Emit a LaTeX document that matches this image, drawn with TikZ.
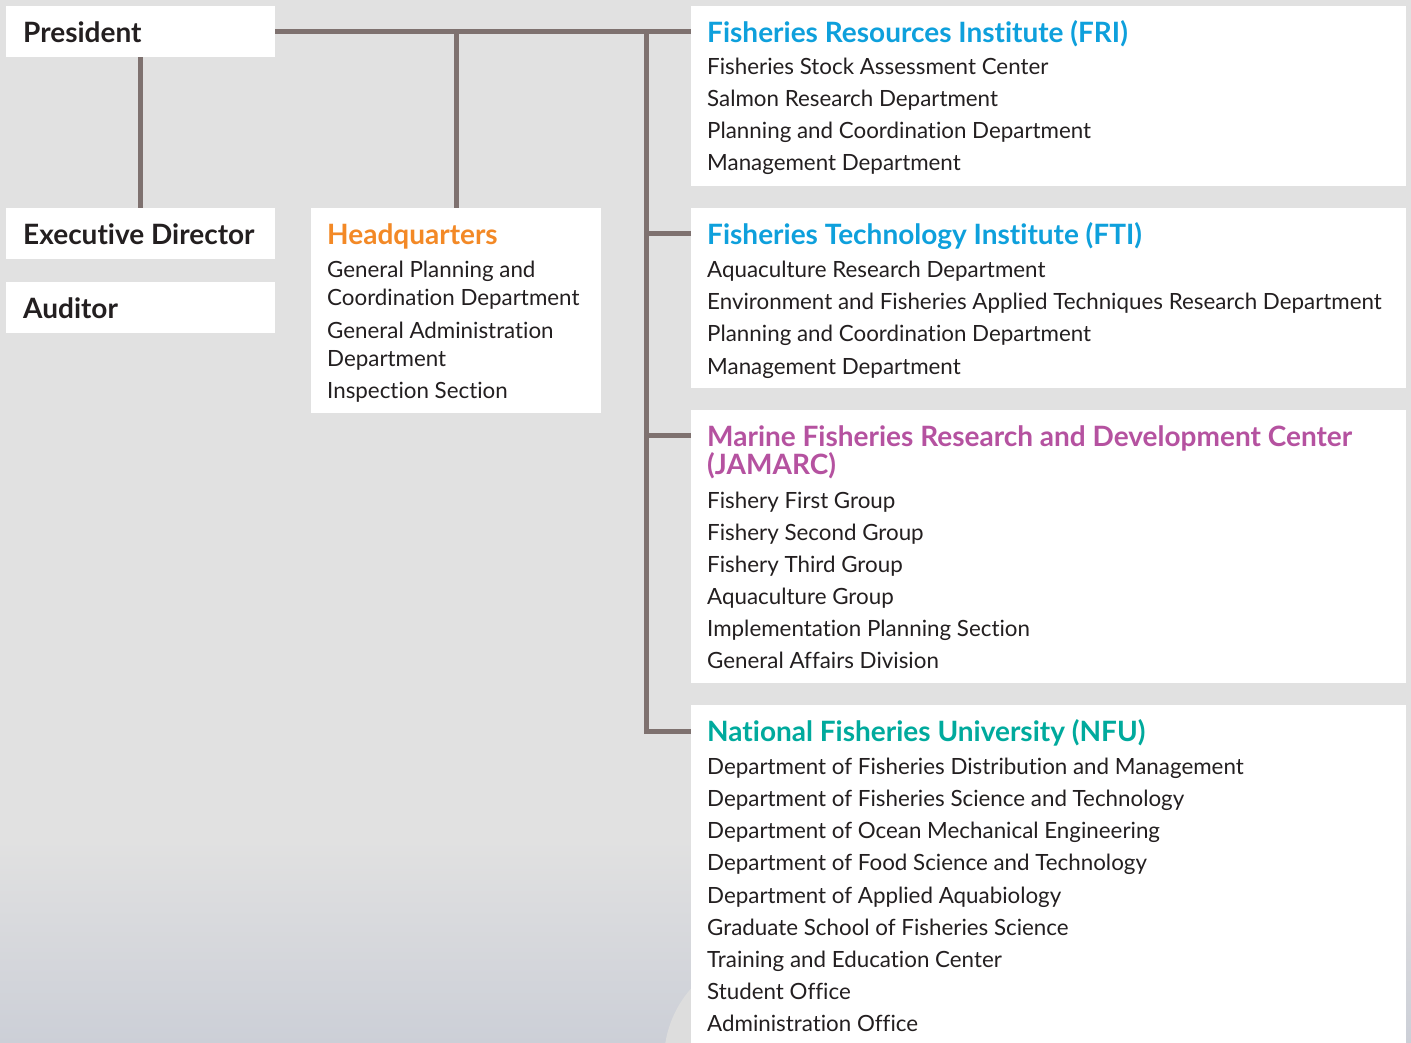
\documentclass[tikz,border=0pt]{standalone}
\usepackage{fontspec}
\setmainfont[Ligatures=NoCommon]{Lato}
\usetikzlibrary{calc}
\definecolor{bg}{RGB}{225,225,225}
\definecolor{bgb}{RGB}{204,207,215}
\definecolor{bump}{RGB}{221,221,221}
\definecolor{ln}{RGB}{126,113,111}
\definecolor{txt}{RGB}{35,31,32}
\definecolor{cblue}{RGB}{14,160,220}
\definecolor{corange}{RGB}{243,137,38}
\definecolor{cmag}{RGB}{181,82,160}
\definecolor{cteal}{RGB}{0,170,157}
\begin{document}
\begin{tikzpicture}[x=1pt,y=-1pt,
  box/.style={fill=white, draw=none, anchor=north west, inner sep=0pt},
  conn/.style={draw=ln, line width=5pt},
  body/.style={anchor=base west, inner sep=0pt, text=txt, font=\fontsize{22.35}{26}\selectfont},
  ttl/.style={anchor=base west, inner sep=0pt, font=\fontsize{28}{30}\selectfont\bfseries},
  lead/.style={ttl, text=txt}]
\useasboundingbox (0,0) rectangle (1411,1043);
\fill[bg] (0,0) rectangle (1411,1043);
\shade[top color=bg, bottom color=bgb] (0,840) rectangle (1411,1043);
\begin{scope}
\clip (0,0) rectangle (1411,1043);
\fill[bump] (772,1060) circle[radius=108];
\end{scope}
% boxes
\node[box, minimum width=269, minimum height=51] (pres) at (6,6) {};
\node[box, minimum width=269, minimum height=51] (exec) at (6,208) {};
\node[box, minimum width=269, minimum height=51] (aud) at (6,282) {};
\node[box, minimum width=290, minimum height=205] (hq) at (311,208) {};
\node[box, minimum width=715, minimum height=180] (fri) at (691,6) {};
\node[box, minimum width=715, minimum height=180] (fti) at (691,208) {};
\node[box, minimum width=715, minimum height=273] (jam) at (691,410) {};
\node[box, minimum width=715, minimum height=338] (nfu) at (691,705) {};
% connectors
\coordinate (tr) at ($(pres.east -| fri.west)+(-45,0)$);
\draw[conn] (pres.east) -- (pres.east -| fri.west);
\draw[conn] (pres.south) -- (exec.north);
\draw[conn] (hq.north) -- (hq.north |- pres.east);
\draw[conn] (tr) |- ($(nfu.north west)+(0,26)$);
\draw[conn] ($(tr |- fti.north)+(0,25.5)$) -- ($(fti.north west)+(0,25.5)$);
\draw[conn] ($(tr |- jam.north)+(0,25.5)$) -- ($(jam.north west)+(0,25.5)$);
% left texts
\node[lead] (tpres) at (23,43) {President};
\node[lead] (texec) at (23,244) {Executive Director};
\node[lead] (taud) at (23,318) {Auditor};
% HQ
\node[ttl, text=corange] (thq) at (327,244) {Headquarters};
\foreach \y/\t [count=\i] in {277/General Planning and, 305/Coordination Department, 338/General Administration, 366/Department, 398/Inspection Section}
  \node[body] (hq\i) at (327,\y) {\t};
% FRI
\node[ttl, text=cblue] (tfri) at (707,43) {Fisheries Resources Institute (FRI)};
\foreach \y/\t [count=\i] in {75/Fisheries Stock Assessment Center, 107/Salmon Research Department, 139/Planning and Coordination Department, 171/Management Department}
  \node[body] (fri\i) at (707,\y) {\t};
% FTI
\node[ttl, text=cblue] (tfti) at (707,244) {Fisheries Technology Institute (FTI)};
\foreach \y/\t [count=\i] in {277/Aquaculture Research Department, 309/Environment and Fisheries Applied Techniques Research Department, 341/Planning and Coordination Department, 374/Management Department}
  \node[body] (fti\i) at (707,\y) {\t};
% JAMARC
\node[ttl, text=cmag] (tjam) at (707,446) {Marine Fisheries Research and Development Center};
\node[ttl, text=cmag] (tjam2) at (707,474) {(JAMARC)};
\foreach \y/\t [count=\i] in {508/Fishery First Group, 540/Fishery Second Group, 572/Fishery Third Group, 604/Aquaculture Group, 636/Implementation Planning Section, 668/General Affairs Division}
  \node[body] (jam\i) at (707,\y) {\t};
% NFU
\node[ttl, text=cteal] (tnfu) at (707,741) {National Fisheries University (NFU)};
\foreach \y/\t [count=\i] in {774/Department of Fisheries Distribution and Management, 806/Department of Fisheries Science and Technology, 838/Department of Ocean Mechanical Engineering, 870/Department of Food Science and Technology, 903/Department of Applied Aquabiology, 935/Graduate School of Fisheries Science, 967/Training and Education Center, 999/Student Office, 1031/Administration Office}
  \node[body] (nfu\i) at (707,\y) {\t};
\end{tikzpicture}
\end{document}
